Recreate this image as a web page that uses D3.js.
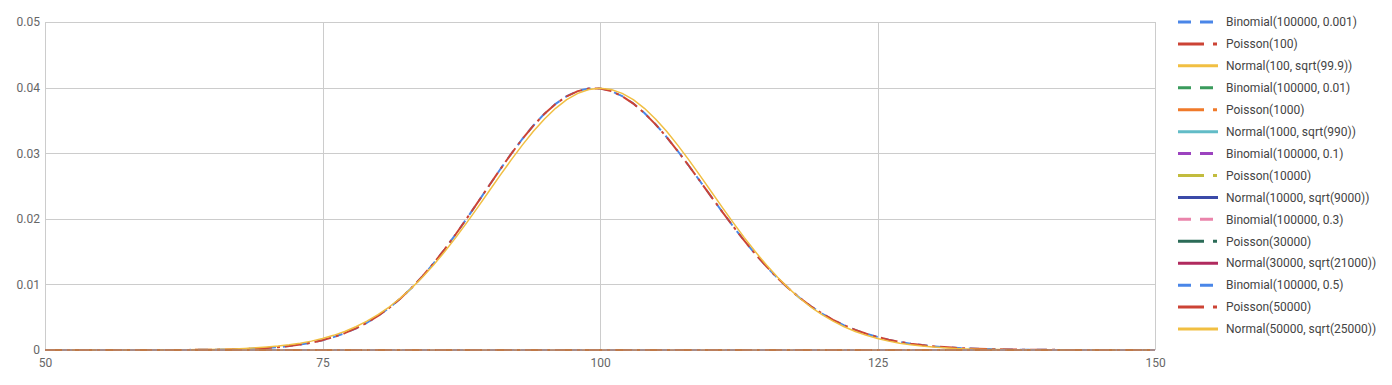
<!DOCTYPE html>
<html>
<head>
<meta charset="utf-8">
<script src="https://cdn.jsdelivr.net/npm/d3@7"></script>
<style>
  html, body { margin: 0; padding: 0; background: #fff; }
  svg { display: block; font-family: Roboto, "Noto Sans", Arial, sans-serif; }
</style>
</head>
<body>
<svg id="chart" width="1392" height="385"></svg>
<script>
// ---------------- data ----------------
const xStart = 50, xEnd = 150;                 // k = 50 .. 150
const xTicks = [50, 75, 100, 125, 150];
const yTicks = [0, 0.01, 0.02, 0.03, 0.04, 0.05];
const yTickLabels = ["0", "0.01", "0.02", "0.03", "0.04", "0.05"];

const seriesNames = [
  "Binomial(100000, 0.001)", "Poisson(100)", "Normal(100, sqrt(99.9))",
  "Binomial(100000, 0.01)", "Poisson(1000)", "Normal(1000, sqrt(990))",
  "Binomial(100000, 0.1)", "Poisson(10000)", "Normal(10000, sqrt(9000))",
  "Binomial(100000, 0.3)", "Poisson(30000)", "Normal(30000, sqrt(21000))",
  "Binomial(100000, 0.5)", "Poisson(50000)", "Normal(50000, sqrt(25000))"
];
const seriesColors = [
  "#4a86e8", "#cc4335", "#f1bf42",
  "#3a9b5c", "#f07a2a", "#62bcc7",
  "#9c43bf", "#c2bc3e", "#3b4aa8",
  "#ea84ab", "#2b6b57", "#b02a5e",
  "#4a86e8", "#cc4335", "#f1bf42"
];
const seriesKinds = ["binomial", "poisson", "normal"];

// values at k = 50..150
const binomial001 = [
  0, 0, 0, 0, 0, 0, 0.000001, 0.000001, 0.000002, 0.000003,
  0.000004, 0.000007, 0.000012, 0.000019, 0.000029, 0.000045, 0.000068, 0.000101, 0.000149, 0.000216,
  0.000310, 0.000435, 0.000606, 0.000830, 0.001122, 0.001496, 0.001968, 0.002556, 0.003278, 0.004151,
  0.005190, 0.006408, 0.007817, 0.009420, 0.011216, 0.013197, 0.015349, 0.017644, 0.020053, 0.022534,
  0.025039, 0.027517, 0.029913, 0.032166, 0.034222, 0.036026, 0.037528, 0.038690, 0.039481, 0.039881,
  0.039881, 0.039486, 0.038711, 0.037583, 0.036136, 0.034414, 0.032464, 0.030338, 0.028089, 0.025767,
  0.023423, 0.021099, 0.018837, 0.016667, 0.014618, 0.012710, 0.010955, 0.009362, 0.007932, 0.006664,
  0.005553, 0.004588, 0.003760, 0.003056, 0.002464, 0.001971, 0.001564, 0.001231, 0.000962, 0.000745,
  0.000573, 0.000437, 0.000331, 0.000249, 0.000186, 0.000137, 0.000101, 0.000073, 0.000053, 0.000038,
  0.000027, 0.000019, 0.000014, 0.000010, 0.000007, 0.000005, 0.000003, 0.000002, 0.000001, 0.000001,
  0
];
const poisson100 = [
  0, 0, 0, 0, 0, 0, 0.000001, 0.000001, 0.000002, 0.000003,
  0.000004, 0.000007, 0.000012, 0.000019, 0.000029, 0.000045, 0.000068, 0.000102, 0.000150, 0.000217,
  0.000311, 0.000437, 0.000608, 0.000832, 0.001125, 0.001500, 0.001973, 0.002562, 0.003285, 0.004158,
  0.005198, 0.006417, 0.007826, 0.009429, 0.011225, 0.013205, 0.015355, 0.017649, 0.020056, 0.022535,
  0.025039, 0.027515, 0.029908, 0.032159, 0.034212, 0.036012, 0.037513, 0.038673, 0.039462, 0.039861,
  0.039861, 0.039466, 0.038692, 0.037566, 0.036121, 0.034401, 0.032454, 0.030330, 0.028084, 0.025765,
  0.023423, 0.021101, 0.018841, 0.016673, 0.014625, 0.012718, 0.010964, 0.009371, 0.007941, 0.006673,
  0.005561, 0.004596, 0.003767, 0.003063, 0.002470, 0.001976, 0.001568, 0.001235, 0.000965, 0.000748,
  0.000575, 0.000439, 0.000333, 0.000250, 0.000187, 0.000138, 0.000102, 0.000074, 0.000054, 0.000039,
  0.000028, 0.000020, 0.000014, 0.000010, 0.000007, 0.000005, 0.000003, 0.000002, 0.000001, 0.000001,
  0.000001
];
const normal100 = [
  0, 0, 0, 0.000001, 0.000001, 0.000002, 0.000002, 0.000004, 0.000006, 0.000009,
  0.000013, 0.000020, 0.000029, 0.000042, 0.000061, 0.000087, 0.000123, 0.000171, 0.000237, 0.000325,
  0.000441, 0.000593, 0.000789, 0.001039, 0.001354, 0.001748, 0.002234, 0.002827, 0.003541, 0.004391,
  0.005391, 0.006553, 0.007886, 0.009396, 0.011083, 0.012944, 0.014965, 0.017131, 0.019414, 0.021783,
  0.024197, 0.026611, 0.028975, 0.031234, 0.033333, 0.035220, 0.036842, 0.038156, 0.039123, 0.039715,
  0.039914, 0.039715, 0.039123, 0.038156, 0.036842, 0.035220, 0.033333, 0.031234, 0.028975, 0.026611,
  0.024197, 0.021783, 0.019414, 0.017131, 0.014965, 0.012944, 0.011083, 0.009396, 0.007886, 0.006553,
  0.005391, 0.004391, 0.003541, 0.002827, 0.002234, 0.001748, 0.001354, 0.001039, 0.000789, 0.000593,
  0.000441, 0.000325, 0.000237, 0.000171, 0.000123, 0.000087, 0.000061, 0.000042, 0.000029, 0.000020,
  0.000013, 0.000009, 0.000006, 0.000004, 0.000002, 0.000002, 0.000001, 0.000001, 0, 0,
  0
];
// every other distribution is centred far outside 50..150: zero everywhere in view
const zeroSeries = [
  0, 0, 0, 0, 0, 0, 0, 0, 0, 0,
  0, 0, 0, 0, 0, 0, 0, 0, 0, 0,
  0, 0, 0, 0, 0, 0, 0, 0, 0, 0,
  0, 0, 0, 0, 0, 0, 0, 0, 0, 0,
  0, 0, 0, 0, 0, 0, 0, 0, 0, 0,
  0, 0, 0, 0, 0, 0, 0, 0, 0, 0,
  0, 0, 0, 0, 0, 0, 0, 0, 0, 0,
  0, 0, 0, 0, 0, 0, 0, 0, 0, 0,
  0, 0, 0, 0, 0, 0, 0, 0, 0, 0,
  0, 0, 0, 0, 0, 0, 0, 0, 0, 0,
  0
];
const seriesValues = [
  binomial001, poisson100, normal100,
  zeroSeries, zeroSeries, zeroSeries,
  zeroSeries, zeroSeries, zeroSeries,
  zeroSeries, zeroSeries, zeroSeries,
  zeroSeries, zeroSeries, zeroSeries
];

// ---------------- layout / style ----------------
const plot = { left: 45, right: 1155, top: 22, bottom: 350 };
const dashPlot = { binomial: "10,7", poisson: "17,5,3,5", normal: null };
const widthPlot = { binomial: 2, poisson: 2, normal: 1.5 };
const dashLegend = { binomial: "13,9", poisson: "26,9,4,9", normal: null };

const svg = d3.select("#chart");
const x = d3.scaleLinear().domain([xStart, xEnd]).range([plot.left, plot.right]);
const y = d3.scaleLinear().domain([0, 0.05]).range([plot.bottom, plot.top]);

const kValues = d3.range(xStart, xEnd + 1);

// gridlines
const grid = svg.append("g");
grid.selectAll("line.h").data(yTicks).join("line")
  .attr("x1", plot.left).attr("x2", plot.right)
  .attr("y1", d => Math.round(y(d)) + 0.5).attr("y2", d => Math.round(y(d)) + 0.5)
  .attr("stroke", "#cccccc").attr("stroke-width", 1);
grid.selectAll("line.v").data(xTicks).join("line")
  .attr("y1", plot.top).attr("y2", plot.bottom)
  .attr("x1", d => Math.round(x(d)) + 0.5).attr("x2", d => Math.round(x(d)) + 0.5)
  .attr("stroke", "#cccccc").attr("stroke-width", 1);

// axes (labels only)
const yAxis = svg.append("g")
  .attr("transform", `translate(${plot.left - 4},0)`)
  .call(d3.axisLeft(y).tickValues(yTicks).tickSize(0).tickPadding(1)
    .tickFormat((d, i) => yTickLabels[i]));
const xAxis = svg.append("g")
  .attr("transform", `translate(0,${plot.bottom + 5})`)
  .call(d3.axisBottom(x).tickValues(xTicks).tickSize(0).tickPadding(3)
    .tickFormat(d3.format("d")));
[yAxis, xAxis].forEach(a => {
  a.select(".domain").remove();
  a.selectAll("text").attr("font-size", 12).attr("fill", "#666666")
    .attr("font-family", "Roboto, 'Noto Sans', sans-serif");
});

// clip
svg.append("clipPath").attr("id", "clip").append("rect")
  .attr("x", plot.left).attr("y", plot.top - 2)
  .attr("width", plot.right - plot.left).attr("height", plot.bottom - plot.top + 3);

const line = d3.line()
  .x((d, i) => x(kValues[i]))
  .y(d => y(d))
  .curve(d3.curveLinear);

const lines = svg.append("g").attr("clip-path", "url(#clip)");
seriesValues.forEach((vals, s) => {
  const kind = seriesKinds[s % 3];
  lines.append("path")
    .datum(vals)
    .attr("d", line)
    .attr("fill", "none")
    .attr("stroke", seriesColors[s])
    .attr("stroke-width", widthPlot[kind])
    .attr("stroke-opacity", s < 3 ? 1 : 0.5)
    .attr("stroke-linejoin", "round")
    .attr("stroke-dasharray", dashPlot[kind]);
});

// legend
const legend = svg.append("g");
const legendX = 1178, legendY0 = 22, legendStep = 21.93;
seriesNames.forEach((name, s) => {
  const kind = seriesKinds[s % 3];
  const cy = legendY0 + s * legendStep;
  legend.append("line")
    .attr("x1", legendX).attr("x2", legendX + 40)
    .attr("y1", cy).attr("y2", cy)
    .attr("stroke", seriesColors[s]).attr("stroke-width", 3)
    .attr("stroke-dasharray", dashLegend[kind]);
  legend.append("text")
    .attr("x", legendX + 48).attr("y", cy).attr("dy", "0.35em")
    .attr("font-size", 12).attr("fill", "#444444")
    .text(name);
});
</script>
</body>
</html>
